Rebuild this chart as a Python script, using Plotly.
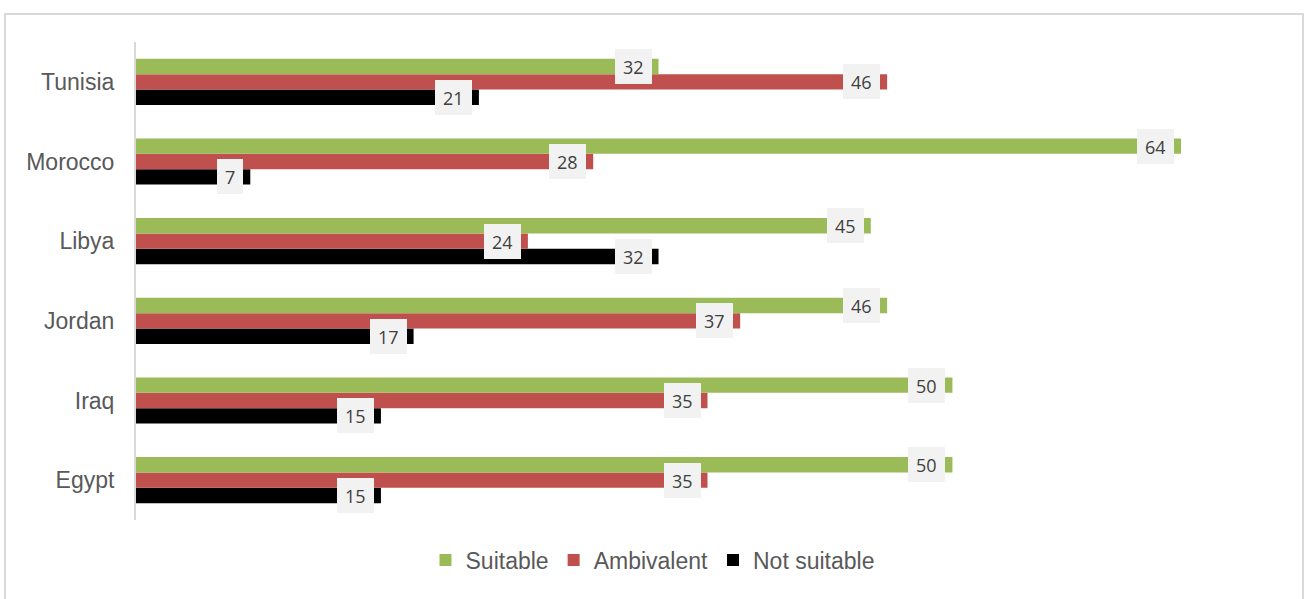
import plotly.graph_objects as go

# Survey results by country (percent)
countries = ["Egypt", "Iraq", "Jordan", "Libya", "Morocco", "Tunisia"]
suitable = [50, 50, 46, 45, 64, 32]
ambivalent = [35, 35, 37, 24, 28, 46]
not_suitable = [15, 15, 17, 32, 7, 21]

series_names = ["Not suitable", "Ambivalent", "Suitable"]
series_values = [not_suitable, ambivalent, suitable]
series_colors = ["#000000", "#C0504D", "#9BBB59"]

W, H = 1305, 599
M_L, M_R, M_T, M_B = 136, 26, 42, 79
X_MAX = 70

fig = go.Figure()
for name, vals, col in zip(series_names, series_values, series_colors):
    fig.add_trace(go.Bar(
        y=countries, x=vals, name=name, orientation="h",
        marker=dict(color=col, line=dict(width=0)),
        hoverinfo="x+y+name",
    ))

# Value labels with light boxes at the inner end of each bar
plot_h = H - M_T - M_B
band = plot_h / len(countries)
bargap = 0.42
bar_px = band * (1 - bargap) / len(series_names)
shifts = [-bar_px, 0, bar_px]
annotations = []
for vals, dy in zip(series_values, shifts):
    for c, v in zip(countries, vals):
        annotations.append(dict(
            x=v, y=c, xref="x", yref="y", text=str(v), showarrow=False,
            xanchor="right", yanchor="middle", xshift=-7, yshift=dy,
            bgcolor="#F2F2F2", borderpad=8, borderwidth=0, height=19,
            font=dict(family="Open Sans, sans-serif", size=18, color="#404040"),
        ))

# Outer chart frame (paper coordinates extend beyond the plot area)
plot_w = W - M_L - M_R
def px_to_paper_x(px):
    return (px - M_L) / plot_w
def py_to_paper_y(py):
    return (H - M_B - py) / plot_h

frame = dict(
    type="rect", xref="paper", yref="paper",
    x0=px_to_paper_x(5), x1=px_to_paper_x(1303),
    y0=py_to_paper_y(620), y1=py_to_paper_y(14),
    line=dict(color="#D9D9D9", width=2), fillcolor="rgba(0,0,0,0)", layer="below",
)

fig.update_layout(
    width=W, height=H,
    margin=dict(l=M_L, r=M_R, t=M_T, b=M_B, pad=0),
    paper_bgcolor="white", plot_bgcolor="white",
    barmode="group", bargap=bargap, bargroupgap=0,
    xaxis=dict(range=[0, X_MAX], visible=False, showgrid=False, zeroline=False),
    yaxis=dict(
        showgrid=False, zeroline=False, showline=True, linecolor="#D9D9D9", linewidth=2,
        ticks="", ticklabelstandoff=15,
        tickfont=dict(family="Arial, Liberation Sans, sans-serif", size=23, color="#595959"),
    ),
    legend=dict(
        orientation="h", traceorder="reversed",
        xref="container", yref="container", x=0.5, xanchor="center", y=0.065, yanchor="middle",
        font=dict(family="Arial, Liberation Sans, sans-serif", size=23, color="#595959"),
        itemclick=False, itemdoubleclick=False,
    ),
    annotations=annotations,
    shapes=[frame],
    showlegend=True,
)

fig.write_html("out.html")
